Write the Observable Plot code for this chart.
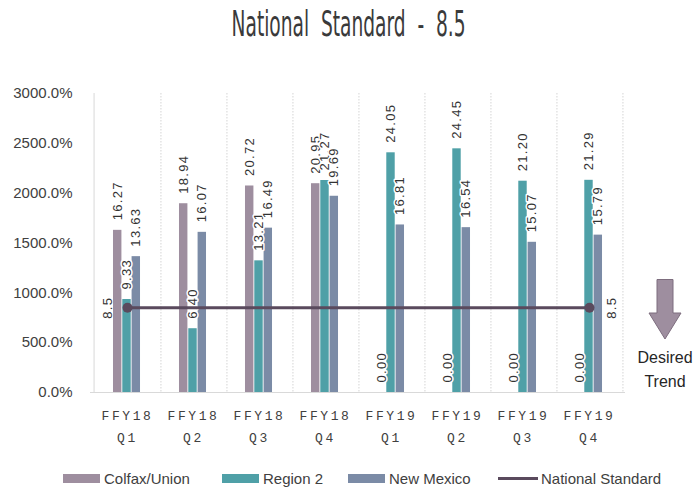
<!DOCTYPE html>
<html><head><meta charset="utf-8">
<script src="https://cdn.jsdelivr.net/npm/d3@7"></script>
<script src="https://cdn.jsdelivr.net/npm/@observablehq/plot@0.6"></script>
<style>
body{margin:0;background:#fff;width:698px;height:490px;overflow:hidden;position:relative;font-family:"Liberation Sans",Arial,sans-serif;}
#title{position:absolute;top:6px;left:0;width:698px;text-align:center;}
#title span{display:inline-block;font-family:"DejaVu Sans";font-stretch:condensed;font-size:36px;line-height:36px;color:#3a3a3a;white-space:pre;transform-origin:50% 50%;}
#chart{position:absolute;top:60px;left:0;}
.leg{position:absolute;top:469px;height:18px;display:flex;align-items:center;font-size:15px;color:#404040;white-space:nowrap;}
.sw{width:37px;height:9px;margin-right:4px;}
.ln{width:40px;height:3px;margin-right:3px;}
#trend{position:absolute;left:625px;top:279px;width:80px;text-align:center;color:#262626;font-size:16px;line-height:24px;}
</style></head>
<body>
<div id="title"><span id="ttl">National  Standard  -  8.5</span></div>
<div id="chart"></div>
<div id="legend"></div>
<div id="trend">
<svg width="80" height="62" style="display:block"><path d="M32 0.5 H48 V34 H56 L40 60 L24 34 H32 Z" fill="#9e8e9f" stroke="#7d6d7e" stroke-width="1"/></svg>
<div style="margin-top:5px">Desired</div><div>Trend</div>
</div>
<script>
const quarters = ["FFY18 Q1","FFY18 Q2","FFY18 Q3","FFY18 Q4","FFY19 Q1","FFY19 Q2","FFY19 Q3","FFY19 Q4"];
const seriesNames = ["Colfax/Union","Region 2","New Mexico"];
const colfaxUnion = [16.27,18.94,20.72,20.95,0,0,0,0];
const region2 = [9.33,6.40,13.21,21.27,24.05,24.45,21.20,21.29];
const newMexico = [13.63,16.07,16.49,19.69,16.81,16.54,15.07,15.79];
const nationalStandard = 8.5;
const nationalStandardLabel = "National Standard";
const yTicks = [0,5,10,15,20,25,30];

const colors = ["#9e8e9f","#4fa0a7","#7b8ba6"];
const lineColor = "#5a4a5d";
const W = 698, H = 400, mL = 90, mR = 73, mT = 33, mB = 68;
const bw = (W - mL - mR) / quarters.length;
const barW = 9.3;
const inset = (bw - barW) / 2;
const offsets = [-9.8, -0.5, 8.8];
const monoFont = "Liberation Mono, DejaVu Sans Mono, monospace";
const labelFont = "Liberation Sans, Arial, sans-serif";

const seriesData = [colfaxUnion, region2, newMexico].map(vals => quarters.map((q, i) => ({q, v: vals[i]})));
const lineData = quarters.map(q => ({q, v: nationalStandard}));
const ends = [lineData[0], lineData[lineData.length - 1]];

const marks = [
  Plot.ruleX([quarters[0]], {dx: -bw/2, stroke: "#d9d9d9"}),
  Plot.ruleX(quarters, {dx: bw/2, stroke: "#d4d4d4", strokeDasharray: "1.5,1.5"}),
  Plot.ruleY([0], {stroke: "#d9d9d9"}),
  Plot.axisY(yTicks, {tickSize: 0, tickPadding: 18, fontSize: 15, tickFormat: d => (d*100).toFixed(1) + "%", label: null}),
  Plot.axisX({tickSize: 0, tickPadding: 12, fontSize: 13, lineHeight: 1.7, fontFamily: monoFont, tickFormat: q => q.replace(" ", "\n"), label: null})
];
seriesData.forEach((data, s) => {
  marks.push(Plot.barY(data, {x: "q", y: "v", fill: colors[s], insetLeft: inset, insetRight: inset, dx: offsets[s]}));
});
seriesData.forEach((data, s) => {
  marks.push(Plot.text(data, {x: "q", y: "v", text: d => d.v.toFixed(2), rotate: -90, textAnchor: "start", dx: offsets[s], dy: -10, fontSize: 13, fontFamily: labelFont, fill: "#333", stroke: "white", strokeWidth: 3, paintOrder: "stroke"}));
});
marks.push(
  Plot.lineY(lineData, {x: "q", y: "v", stroke: lineColor, strokeWidth: 3}),
  Plot.dot(ends, {x: "q", y: "v", r: 5, fill: lineColor}),
  Plot.text([ends[0]], {x: "q", y: "v", text: d => String(d.v), rotate: -90, dx: -20, fontSize: 13, fontFamily: labelFont, fill: "#333"}),
  Plot.text([ends[1]], {x: "q", y: "v", text: d => String(d.v), rotate: -90, dx: 22, fontSize: 13, fontFamily: labelFont, fill: "#333"})
);

const chart = Plot.plot({
  width: W, height: H,
  marginLeft: mL, marginRight: mR, marginTop: mT, marginBottom: mB,
  style: {fontFamily: "Liberation Sans, Arial, sans-serif", color: "#404040", background: "white"},
  x: {domain: quarters, padding: 0, axis: null},
  y: {domain: [0, 30], axis: null},
  marks
});
document.getElementById("chart").appendChild(chart);
d3.select(chart).selectAll('g[aria-label="x-axis tick label"] text').style("letter-spacing", "2.6px");
d3.select(chart).selectAll('g[aria-label="text"] text').style("letter-spacing", "1.3px");

// legend
const legend = document.getElementById("legend");
const legLefts = [63, 222, 348, 498];
seriesNames.forEach((name, s) => {
  const el = document.createElement("div");
  el.className = "leg"; el.style.left = legLefts[s] + "px";
  el.innerHTML = `<div class="sw" style="background:${colors[s]}"></div><span>${name}</span>`;
  legend.appendChild(el);
});
{
  const el = document.createElement("div");
  el.className = "leg"; el.style.left = legLefts[3] + "px";
  el.innerHTML = `<div class="ln" style="background:${lineColor}"></div><span>${nationalStandardLabel}</span>`;
  legend.appendChild(el);
}
// title width fit
const t = document.getElementById("ttl");
const w = t.getBoundingClientRect().width;
t.style.transform = `scaleX(${234 / w})`;
</script>
</body></html>
